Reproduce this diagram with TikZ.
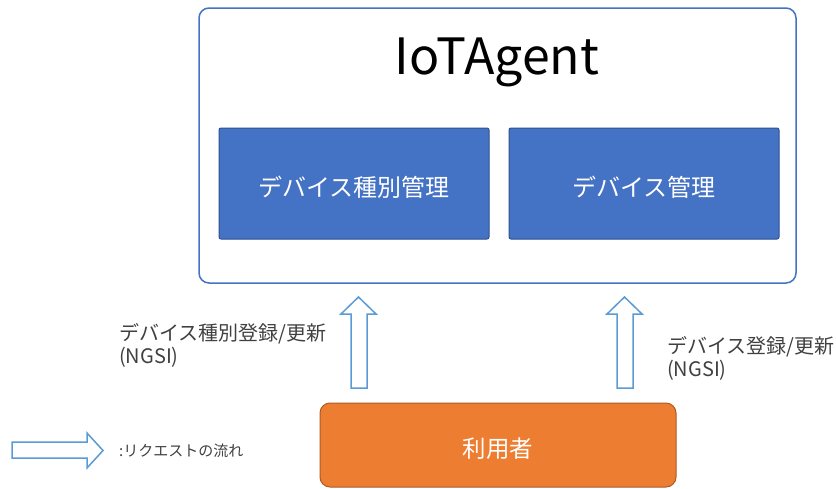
\documentclass[tikz,border=0pt]{standalone}
\usepackage{fontspec}
\setmainfont{Noto Sans CJK JP}
\usetikzlibrary{positioning}
\definecolor{outerblue}{HTML}{4472C4}
\definecolor{innerfill}{HTML}{4472C4}
\definecolor{innerline}{HTML}{2F528F}
\definecolor{orangefill}{HTML}{ED7D31}
\definecolor{orangeline}{HTML}{AE5A21}
\definecolor{arrowblue}{HTML}{5B9BD5}
\definecolor{labelgray}{HTML}{404040}
\tikzset{
  outerbox/.style={draw=outerblue, line width=1.5pt, rounded corners=10pt, fill=white},
  innerbox/.style={draw=innerline, line width=1pt, fill=innerfill, rounded corners=2pt},
  innertext/.style={text=white, font=\fontsize{24}{28}\selectfont},
  userbox/.style={draw=orangeline, line width=1pt, fill=orangefill, rounded corners=10pt},
  usertext/.style={text=white, font=\fontsize{23.5}{28}\selectfont},
  hollowarrow/.style={draw=arrowblue, line width=1.5pt, fill=white, line join=miter},
  lbl/.style={text=labelgray, font=\fontsize{20}{23}\selectfont, align=left, anchor=north west, inner sep=0pt},
}
\begin{document}
\begin{tikzpicture}[x=1pt,y=1pt]
\useasboundingbox (0,0) rectangle (836,-488);
% outer box
\draw[outerbox] (199,-8) rectangle (796,-283);
\node[font=\fontsize{50}{56}\selectfont, text=black] (title) at (497,-62) {IoTAgent};
% inner boxes
\node[innerbox, minimum width=270pt, minimum height=111pt] (kind) at (354,-183.5) {};
\node[innertext] (kindt) at ([yshift=-4pt]kind.center) {デバイス種別管理};
\node[innerbox, minimum width=270pt, minimum height=111pt] (dev) at (644,-183.5) {};
\node[innertext] (devt) at ([yshift=-4pt]dev.center) {デバイス管理};
% user
\node[userbox, minimum width=356pt, minimum height=84pt] (user) at (498,-445) {};
\node[usertext] (usert) at ([yshift=-4pt]user.center) {利用者};
% arrows
\draw[hollowarrow] (351,-388) -- (351,-314) -- (341,-314) -- (358.5,-297) -- (376,-314) -- (367,-314) -- (367,-388) -- cycle;
\draw[hollowarrow] (617,-388) -- (617,-314) -- (607,-314) -- (624.5,-297) -- (642,-314) -- (633,-314) -- (633,-388) -- cycle;
% labels
\node[lbl] (l1) at (119,-323) {デバイス種別登録/更新\\(NGSI)};
\node[lbl] (l2) at (667,-336) {デバイス登録/更新\\(NGSI)};
% legend
\draw[hollowarrow] (12,-442) -- (87,-442) -- (87,-433) -- (103,-450.5) -- (87,-468) -- (87,-458) -- (12,-458) -- cycle;
\node[text=labelgray, font=\fontsize{15}{17}\selectfont, anchor=west, inner sep=0pt] (leg) at (119,-451) {:リクエストの流れ};
\end{tikzpicture}
\end{document}
